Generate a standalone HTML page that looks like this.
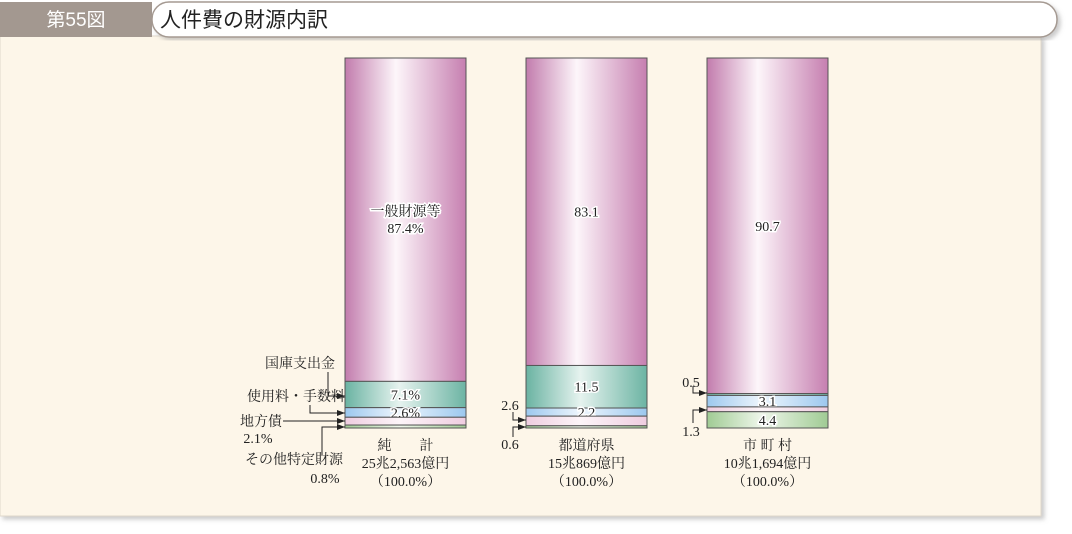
<!DOCTYPE html>
<html><head><meta charset="utf-8">
<style>
body{margin:0;width:1072px;height:529px;background:#fff;overflow:hidden;font-family:"Liberation Serif","Noto Serif CJK SC",serif;}
</style></head>
<body>
<svg id="chart" width="1072" height="529" xmlns="http://www.w3.org/2000/svg">
<defs>
<linearGradient id="gGen" x1="0" x2="1"><stop offset="0" stop-color="#c27cad"/><stop offset="0.42" stop-color="#fdf6fa"/><stop offset="1" stop-color="#c67fb0"/></linearGradient>
<linearGradient id="gTre" x1="0" x2="1"><stop offset="0" stop-color="#6ab3a2"/><stop offset="0.45" stop-color="#e6f3ef"/><stop offset="1" stop-color="#6cb4a3"/></linearGradient>
<linearGradient id="gFee" x1="0" x2="1"><stop offset="0" stop-color="#9cc8ee"/><stop offset="0.45" stop-color="#eef6fd"/><stop offset="1" stop-color="#9cc8ee"/></linearGradient>
<linearGradient id="gBond" x1="0" x2="1"><stop offset="0" stop-color="#efcde0"/><stop offset="0.45" stop-color="#fdf5f9"/><stop offset="1" stop-color="#efcde0"/></linearGradient>
<linearGradient id="gOth" x1="0" x2="1"><stop offset="0" stop-color="#a0cb94"/><stop offset="0.45" stop-color="#eef6ea"/><stop offset="1" stop-color="#a0cb94"/></linearGradient>
<filter id="sh" x="-5%" y="-5%" width="110%" height="115%"><feDropShadow dx="3" dy="3" stdDeviation="2" flood-color="#999" flood-opacity="0.5"/></filter>
<marker id="arr" markerWidth="8" markerHeight="6" refX="8" refY="3" orient="auto" markerUnits="userSpaceOnUse"><path d="M0,0 L8,3 L0,6 z" fill="#222"/></marker>
</defs>
<rect x="0" y="36" width="1041" height="480" fill="#fdf6e9" stroke="#e0d8cc" filter="url(#sh)"/>
<rect x="152" y="2" width="905" height="35" rx="17" fill="#fff" stroke="#a59a92" stroke-width="1.5" filter="url(#sh)"/>
<rect x="0" y="2" width="152" height="35" fill="#a39890"/>
<text x="76" y="26" text-anchor="middle" font-family="Liberation Sans,Noto Sans CJK JP,sans-serif" font-size="19" fill="#fff">第55図</text>
<text x="160" y="27" font-family="Liberation Sans,Noto Sans CJK JP,sans-serif" font-size="21" fill="#222">人件費の財源内訳</text>
<g id="bars"></g>
<g id="anno" font-size="14" fill="#222" stroke="none">
<text x="335" y="368" text-anchor="end">国庫支出金</text>
<text x="345" y="401" text-anchor="end">使用料・手数料</text>
<text x="282" y="426" text-anchor="end">地方債</text>
<text x="258" y="443" text-anchor="middle">2.1%</text>
<text x="343" y="464" text-anchor="end">その他特定財源</text>
<text x="325" y="483" text-anchor="middle">0.8%</text>
<text x="510" y="410" text-anchor="middle">2.6</text>
<text x="510" y="449" text-anchor="middle">0.6</text>
<text x="691" y="387" text-anchor="middle">0.5</text>
<text x="691" y="436" text-anchor="middle">1.3</text>
</g>
<g stroke="#222" stroke-width="1" fill="none">
<path d="M328,372 V396 H345" marker-end="url(#arr)"/>
<path d="M310,405 V413 H345" marker-end="url(#arr)"/>
<path d="M283,421 H345" marker-end="url(#arr)"/>
<path d="M322,455 V427 H345" marker-end="url(#arr)"/>
<path d="M513,412 V420 H526" marker-end="url(#arr)"/>
<path d="M513,437 V427 H526" marker-end="url(#arr)"/>
<path d="M693,386 V393 H707" marker-end="url(#arr)"/>
<path d="M693,423 V410 H707" marker-end="url(#arr)"/>
</g>
</svg>
<script>
const categories=["純　　計","都道府県","市 町 村"];
const amounts=["25兆2,563億円","15兆869億円","10兆1,694億円"];
const generalFunds=[87.4,83.1,90.7];
const treasury=[7.1,11.5,0.5];
const fees=[2.6,2.2,3.1];
const bonds=[2.1,2.6,1.3];
const other=[0.8,0.6,4.4];
const segLabels=[["一般財源等\n87.4%","7.1%","2.6%","",""],["83.1","11.5","2.2","",""],["90.7","","3.1","","4.4"]];
const NS="http://www.w3.org/2000/svg";
const barsG=document.getElementById('bars');
const barX=i=>345+i*181, barW=121, baseY=428, topY=58;
const yScale=v=>(baseY-topY)*v/100;
const fills=["url(#gGen)","url(#gTre)","url(#gFee)","url(#gBond)","url(#gOth)"];
const segNames=["general","treasury","fees","bonds","other"];
function mk(t,a){const e=document.createElementNS(NS,t);for(const k in a)e.setAttribute(k,a[k]);return e;}
categories.forEach((c,i)=>{
  const vals=[generalFunds[i],treasury[i],fees[i],bonds[i],other[i]];
  const tot=vals.reduce((a,b)=>a+b,0);
  let y=baseY;
  const ys=[];
  for(let s=4;s>=0;s--){const h=yScale(vals[s]*100/tot);y-=h;ys[s]=[y,h];}
  for(let s=0;s<5;s++){
    const r=mk('rect',{x:barX(i),y:ys[s][0],width:barW,height:ys[s][1],fill:fills[s],stroke:'#555','stroke-width':1});
    
    
    barsG.appendChild(r);
    const lab=segLabels[i][s];
    if(lab){
      const lines=lab.split('\n');
      lines.forEach((ln,k)=>{
        const cy=ys[s][0]+ys[s][1]/2+5+(k-(lines.length-1)/2)*17;
        const t=mk('text',{x:barX(i)+barW/2,y:cy,'text-anchor':'middle','font-size':14,fill:'#222',stroke:'#fff','stroke-width':3,'paint-order':'stroke'});
        
        
        t.textContent=ln;barsG.appendChild(t);
      });
    }
  }
  const cx=barX(i)+barW/2;
  [c,amounts[i],"（100.0%）"].forEach((txt,k)=>{
    const t=mk('text',{x:cx,y:450+k*18,'text-anchor':'middle','font-size':14,fill:'#222'});
    
    
    t.textContent=txt;barsG.appendChild(t);
  });
});
</script>
</body></html>
